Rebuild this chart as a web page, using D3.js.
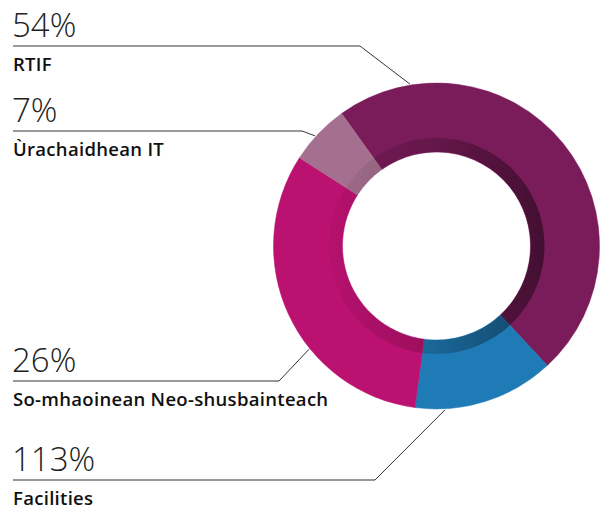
<!DOCTYPE html>
<html>
<head>
<meta charset="utf-8">
<script src="https://cdn.jsdelivr.net/npm/d3@7"></script>
<style>
  body { margin: 0; background: #fff; }
  svg { display: block; }
  .pct { font-family: "Open Sans", sans-serif; font-weight: 300; fill: #222; }
  .name { font-family: "Open Sans", sans-serif; font-weight: 600; fill: #111; letter-spacing: 0.3px; }
</style>
</head>
<body>
<div class="container"></div>
<script>
// slice order is clockwise from the top-left
const categories = ['RTIF', 'Facilities', 'So-mhaoinean Neo-shusbainteach', 'Ùrachaidhean IT'];
const sliceValues = [48, 14, 32, 6];
const pctLabels = ['54%', '113%', '26%', '7%'];
const colors = ['#7a1b5a', '#1f7bb6', '#bb1170', '#a5708f'];

const w = 607,
    h = 508,
    cx = 436.5,
    cy = 246,
    outerR = 163,
    innerR = 94,
    shadeR = 108;

// leader layout: text baseline, elbow x, angle where the line meets the ring
const labelY = [37, 471, 372, 122];
const elbowX = [360, 375, 279, 302];
const hitDeg = [-9.3, 177, 231, -47.8];

const svg = d3.select('.container')
  .append('svg')
  .attr('width', w)
  .attr('height', h);

// gradient coords are in the donut group's space (centred at 0,0)
const grad = svg.append('defs').append('linearGradient')
  .attr('id', 'shade')
  .attr('gradientUnits', 'userSpaceOnUse')
  .attr('x1', -shadeR).attr('y1', 0)
  .attr('x2', shadeR).attr('y2', 0);
grad.append('stop').attr('offset', 0).attr('stop-color', '#000').attr('stop-opacity', 0.03);
grad.append('stop').attr('offset', 0.5).attr('stop-color', '#000').attr('stop-opacity', 0.18);
grad.append('stop').attr('offset', 1).attr('stop-color', '#000').attr('stop-opacity', 0.45);

const start = -35.6 * Math.PI / 180;
const pie = d3.pie().sort(null).startAngle(start).endAngle(start + 2 * Math.PI);
const arc = d3.arc().innerRadius(innerR).outerRadius(outerR);

const g = svg.append('g').attr('transform', `translate(${cx},${cy})`);

g.selectAll('path.slice')
  .data(pie(sliceValues))
  .enter()
  .append('path')
  .attr('class', 'slice')
  .attr('d', arc)
  .attr('fill', (d, i) => colors[i])
  .attr('stroke', (d, i) => colors[i])
  .attr('stroke-width', 0.5);

// darker inner band
g.append('path')
  .attr('d', d3.arc().innerRadius(innerR).outerRadius(shadeR).startAngle(0).endAngle(2 * Math.PI))
  .attr('fill', 'url(#shade)');

// leader lines and text
categories.forEach((name, i) => {
  const a = hitDeg[i] * Math.PI / 180;
  const px = cx + (outerR + 1) * Math.sin(a);
  const py = cy - (outerR + 1) * Math.cos(a);
  const ly = labelY[i] + 9;

  svg.append('polyline')
    .attr('points', `13,${ly} ${elbowX[i]},${ly} ${px},${py}`)
    .attr('fill', 'none')
    .attr('stroke', '#333')
    .attr('stroke-width', 1);

  svg.append('text')
    .attr('class', 'pct')
    .attr('x', 12)
    .attr('y', labelY[i])
    .style('font-size', '33px')
    .text(pctLabels[i]);

  svg.append('text')
    .attr('class', 'name')
    .attr('x', 13)
    .attr('y', labelY[i] + 34)
    .style('font-size', '18.5px')
    .text(name);
});
</script>
</body>
</html>
